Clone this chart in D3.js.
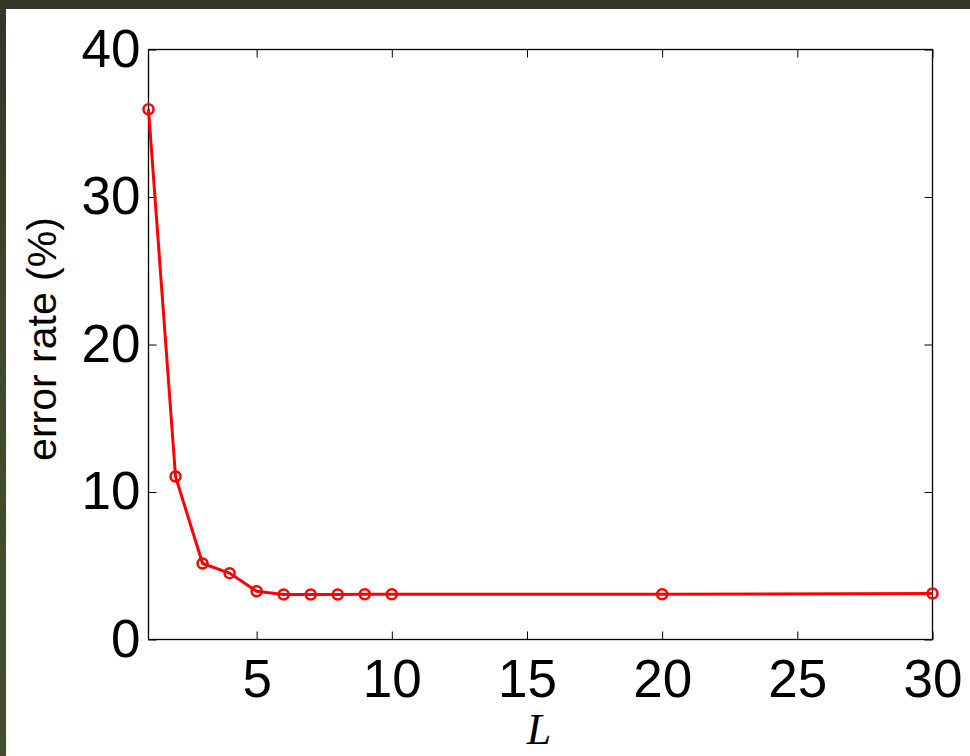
<!DOCTYPE html>
<html>
<head>
<meta charset="utf-8">
<script src="https://cdn.jsdelivr.net/npm/d3@7"></script>
<style>
  html, body { margin: 0; padding: 0; background: #fff; }
  svg { display: block; }
</style>
</head>
<body>
<script>
// error rate vs L
var Lvalues = [1, 2, 3, 4, 5, 6, 7, 8, 9, 10, 20, 30];
var errorRate = [35.95, 11.05, 5.15, 4.5, 3.27, 3.05, 3.05, 3.05, 3.07, 3.07, 3.07, 3.12];
var xTicks = [5, 10, 15, 20, 25, 30];
var yTicks = [0, 10, 20, 30, 40];

var W = 970, H = 756;
// plot box edges (note: "top" is taken by window.top, so use a prefix)
var pLeft = 148.5, pRight = 932.5, pTop = 49.5, pBottom = 639.5;

var svg = d3.select("body").append("svg")
    .attr("width", W)
    .attr("height", H);

// dark frame round the figure (top and left edges)
var grad = svg.append("defs").append("linearGradient")
    .attr("id", "frame").attr("x1", 0).attr("y1", 0).attr("x2", 0).attr("y2", 1);
grad.append("stop").attr("offset", "0%").attr("stop-color", "#333628");
grad.append("stop").attr("offset", "45%").attr("stop-color", "#3f4a2c");
grad.append("stop").attr("offset", "100%").attr("stop-color", "#434f2e");
svg.append("rect").attr("x", 0).attr("y", 0).attr("width", 6).attr("height", H).style("fill", "url(#frame)");
svg.append("rect").attr("x", 0).attr("y", 0).attr("width", W).attr("height", 9).style("fill", "#333628");

var x = d3.scaleLinear().domain([1, 30]).range([pLeft, pRight]);
var y = d3.scaleLinear().domain([0, 40]).range([pBottom, pTop]);

var tickLen = 8;

// bottom / top axes, ticks pointing inward
svg.append("g")
    .attr("transform", "translate(0," + pBottom + ")")
    .call(d3.axisBottom(x).tickValues(xTicks).tickSizeInner(-tickLen).tickSizeOuter(0).tickPadding(20))
    .call(function(g){
        g.select(".domain").remove();
        g.selectAll("line").attr("stroke", "#000");
        g.selectAll("text").attr("font-family", "Liberation Sans, Arial, sans-serif")
            .attr("font-size", 53).attr("fill", "#000").attr("dy", "0.71em");
    });
svg.append("g")
    .attr("transform", "translate(0," + pTop + ")")
    .call(d3.axisTop(x).tickValues(xTicks).tickSizeInner(-tickLen).tickSizeOuter(0).tickFormat(""))
    .call(function(g){
        g.select(".domain").remove();
        g.selectAll("line").attr("stroke", "#000");
    });

// left / right axes
svg.append("g")
    .attr("transform", "translate(" + pLeft + ",0)")
    .call(d3.axisLeft(y).tickValues(yTicks).tickSizeInner(-tickLen).tickSizeOuter(0).tickPadding(8))
    .call(function(g){
        g.select(".domain").remove();
        g.selectAll("line").attr("stroke", "#000");
        g.selectAll("text").attr("font-family", "Liberation Sans, Arial, sans-serif")
            .attr("font-size", 53).attr("fill", "#000");
    });
svg.append("g")
    .attr("transform", "translate(" + pRight + ",0)")
    .call(d3.axisRight(y).tickValues(yTicks).tickSizeInner(-tickLen).tickSizeOuter(0).tickFormat(""))
    .call(function(g){
        g.select(".domain").remove();
        g.selectAll("line").attr("stroke", "#000");
    });

// box
svg.append("rect")
    .attr("x", pLeft).attr("y", pTop)
    .attr("width", pRight - pLeft).attr("height", pBottom - pTop)
    .attr("fill", "none").attr("stroke", "#000").attr("stroke-width", 1.3);

// the series
var pts = Lvalues.map(function(d, i){ return {L: d, e: errorRate[i]}; });

svg.append("path")
    .datum(pts)
    .attr("fill", "none")
    .attr("stroke", "#ff0000")
    .attr("stroke-width", 3)
    .attr("stroke-linejoin", "round")
    .attr("d", d3.line().x(function(d){ return x(d.L); }).y(function(d){ return y(d.e); }));

svg.selectAll("circle.pt")
    .data(pts)
    .enter().append("circle")
    .attr("class", "pt")
    .attr("cx", function(d){ return x(d.L); })
    .attr("cy", function(d){ return y(d.e); })
    .attr("r", 5)
    .attr("fill", "none")
    .attr("stroke", "#ff0000")
    .attr("stroke-width", 2.5);

// labels
svg.append("text")
    .attr("transform", "translate(56," + 339 + ") rotate(-90)")
    .attr("text-anchor", "middle")
    .attr("font-family", "Liberation Sans, Arial, sans-serif")
    .attr("font-size", 41)
    .attr("fill", "#000")
    .text("error rate (%)");

svg.append("text")
    .attr("x", 539)
    .attr("y", 744)
    .attr("text-anchor", "middle")
    .attr("font-family", "Liberation Serif, Times New Roman, serif")
    .attr("font-style", "italic")
    .attr("font-size", 44)
    .attr("fill", "#000")
    .text("L");
</script>
</body>
</html>
